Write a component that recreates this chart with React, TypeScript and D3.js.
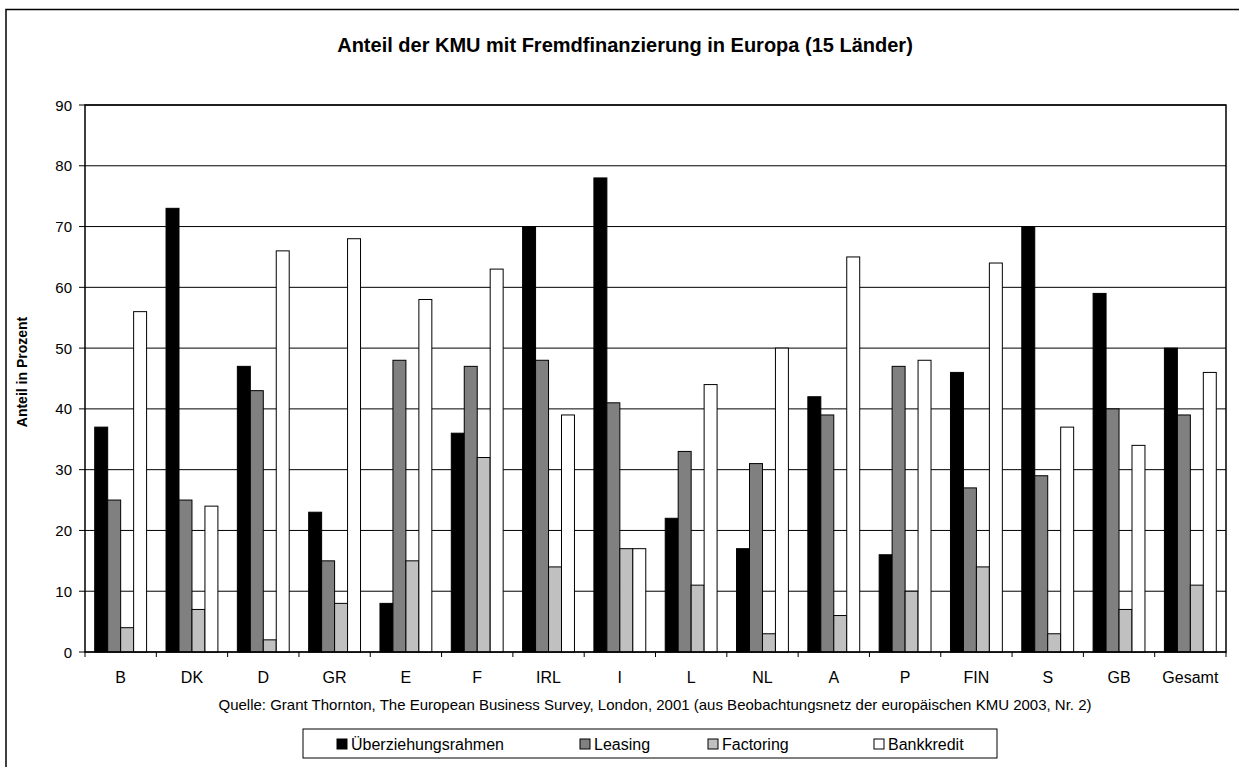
import React from "react";
import { scaleBand, scaleLinear, range } from "d3";

// Kategorien (Länder)
const laender = ["B", "DK", "D", "GR", "E", "F", "IRL", "I", "L", "NL", "A", "P", "FIN", "S", "GB", "Gesamt"];

// Werte je Reihe (in Prozent)
const ueberziehung = [37, 73, 47, 23, 8, 36, 70, 78, 22, 17, 42, 16, 46, 70, 59, 50];
const leasing = [25, 25, 43, 15, 48, 47, 48, 41, 33, 31, 39, 47, 27, 29, 40, 39];
const factoring = [4, 7, 2, 8, 15, 32, 14, 17, 11, 3, 6, 10, 14, 3, 7, 11];
const bankkredit = [56, 24, 66, 68, 58, 63, 39, 17, 44, 50, 65, 48, 64, 37, 34, 46];

const reihenNamen = ["Überziehungsrahmen", "Leasing", "Factoring", "Bankkredit"];
const reihenFarben = ["#000000", "#808080", "#c0c0c0", "#ffffff"];
const yTicks = [0, 10, 20, 30, 40, 50, 60, 70, 80, 90];

const font = "'Liberation Sans', Arial, sans-serif";

export default function App() {
  const width = 1239;
  const height = 767;
  const plot = { left: 85, top: 105, right: 1226, bottom: 652 };

  const reihen = [ueberziehung, leasing, factoring, bankkredit];

  const x = scaleBand<string>()
    .domain(laender)
    .range([plot.left, plot.right])
    .paddingInner(0)
    .paddingOuter(0);

  // Excel-typische Lückenbreite 150 %
  const barW = x.bandwidth() / (4 + 1.5);
  const gap = (x.bandwidth() - 4 * barW) / 2;

  const y = scaleLinear().domain([0, 90]).range([plot.bottom, plot.top]);

  const legend = { x: 303, y: 729, w: 694, h: 29 };
  const legendX = [337, 580, 708, 874];

  return (
    <svg
      width={width}
      height={height}
      style={{ position: "absolute", left: 0, top: 0, background: "#fff" }}
      fontFamily={font}
    >
      {/* Rahmen */}
      <rect x={6} y={9.5} width={1300} height={800} fill="#fff" stroke="#000" strokeWidth={1.5} />

      {/* Titel */}
      <text x={625} y={52} textAnchor="middle" fontSize={20} fontWeight="bold">
        Anteil der KMU mit Fremdfinanzierung in Europa (15 Länder)
      </text>

      {/* Gitterlinien und Y-Achse */}
      {yTicks.map((t) => (
        <g key={t}>
          <line x1={plot.left - 6} x2={plot.right} y1={y(t)} y2={y(t)} stroke="#000" strokeWidth={1} />
          <text x={72} y={y(t) + 5.5} textAnchor="end" fontSize={15}>
            {t}
          </text>
        </g>
      ))}

      {/* Balken */}
      {laender.map((land, i) => (
        <g key={land}>
          {reihen.map((werte, j) => (
            <rect
              key={j}
              x={(x(land) as number) + gap + j * barW}
              y={y(werte[i])}
              width={barW}
              height={plot.bottom - y(werte[i])}
              fill={reihenFarben[j]}
              stroke="#000"
              strokeWidth={1}
            />
          ))}
        </g>
      ))}

      {/* Plotrahmen */}
      <rect
        x={plot.left}
        y={plot.top}
        width={plot.right - plot.left}
        height={plot.bottom - plot.top}
        fill="none"
        stroke="#000"
        strokeWidth={1.5}
      />

      {/* X-Achse */}
      {range(laender.length + 1).map((k) => {
        const xp = plot.left + k * x.step();
        return <line key={k} x1={xp} x2={xp} y1={plot.bottom} y2={plot.bottom + 5} stroke="#000" />;
      })}
      {laender.map((land) => (
        <text
          key={land}
          x={(x(land) as number) + x.bandwidth() / 2}
          y={683}
          textAnchor="middle"
          fontSize={16}
        >
          {land}
        </text>
      ))}

      {/* Y-Achsentitel */}
      <text
        transform={`translate(27, 372) rotate(-90)`}
        textAnchor="middle"
        fontSize={14}
        fontWeight="bold"
      >
        Anteil in Prozent
      </text>

      {/* Quelle */}
      <text x={655} y={710} textAnchor="middle" fontSize={15}>
        Quelle: Grant Thornton, The European Business Survey, London, 2001 (aus Beobachtungsnetz der europäischen KMU 2003, Nr. 2)
      </text>

      {/* Legende */}
      <rect x={legend.x} y={legend.y} width={legend.w} height={legend.h} fill="#fff" stroke="#000" strokeWidth={1} />
      {reihenNamen.map((name, j) => (
        <g key={name}>
          <rect x={legendX[j]} y={legend.y + 10} width={10} height={10} fill={reihenFarben[j]} stroke="#000" />
          <text x={legendX[j] + 14} y={legend.y + 21} fontSize={16}>
            {name}
          </text>
        </g>
      ))}
    </svg>
  );
}
